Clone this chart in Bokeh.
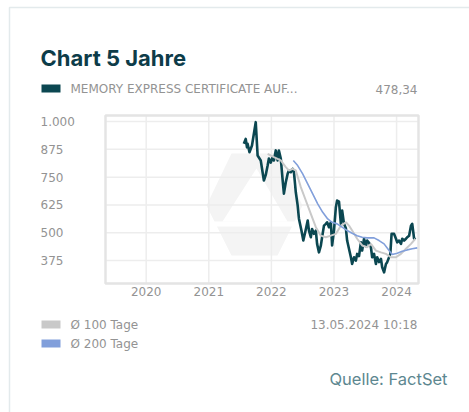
from bokeh.plotting import figure
from bokeh.models import Range1d
from bokeh.core.properties import value
from bokeh.embed import file_html
from bokeh.resources import INLINE

W, H = 469, 412

# ---- data ----
main_t = [2021.56, 2021.59, 2021.61, 2021.62, 2021.65, 2021.69, 2021.75, 2021.78, 2021.83, 2021.88,
          2021.91, 2021.94, 2021.96, 2021.99, 2022.02, 2022.04, 2022.07, 2022.10, 2022.12, 2022.15,
          2022.18, 2022.20, 2022.23, 2022.26, 2022.28, 2022.31, 2022.34, 2022.36, 2022.39, 2022.42,
          2022.44, 2022.48, 2022.51, 2022.54, 2022.58, 2022.60, 2022.63, 2022.65, 2022.68, 2022.71,
          2022.73, 2022.76, 2022.79, 2022.81, 2022.84, 2022.87, 2022.89, 2022.92, 2022.95, 2022.97,
          2023.00, 2023.03, 2023.05, 2023.08, 2023.11, 2023.13, 2023.16, 2023.19, 2023.21, 2023.27,
          2023.29, 2023.32, 2023.35, 2023.37, 2023.40, 2023.43, 2023.45, 2023.48, 2023.51, 2023.53,
          2023.56, 2023.59, 2023.61, 2023.64, 2023.67, 2023.69, 2023.72, 2023.75, 2023.77, 2023.80,
          2023.83, 2023.85, 2023.88, 2023.90, 2023.92, 2023.96, 2023.99, 2024.01, 2024.04, 2024.07,
          2024.09, 2024.12, 2024.15, 2024.17, 2024.20, 2024.23, 2024.25, 2024.28, 2024.30]
main_v = [900, 922, 884, 900, 862, 892, 997, 847, 825, 735,
          760, 802, 834, 815, 840, 825, 870, 825, 870, 834,
          735, 676, 727, 765, 780, 772, 787, 772, 682, 622,
          563, 510, 465, 502, 555, 510, 480, 517, 495, 510,
          450, 412, 442, 480, 532, 540, 547, 525, 547, 443,
          510, 615, 645, 640, 540, 600, 540, 520, 465, 390,
          360, 390, 375, 405, 395, 457, 420, 473, 440, 465,
          455, 435, 390, 405, 360, 390, 368, 383, 345, 322,
          360, 368, 390, 405, 495, 495, 473, 457, 465, 450,
          473, 465, 473, 480, 487, 532, 540, 473, 478.34]

ma100_t = [2021.94, 2022.04, 2022.15, 2022.23, 2022.28, 2022.34, 2022.39, 2022.47, 2022.55, 2022.63,
           2022.71, 2022.79, 2022.87, 2022.95, 2023.03, 2023.11, 2023.19, 2023.24, 2023.29, 2023.37,
           2023.45, 2023.53, 2023.59, 2023.67, 2023.75, 2023.83, 2023.91, 2023.99, 2024.07, 2024.15,
           2024.23, 2024.30]
ma100_v = [855, 840, 825, 795, 780, 787, 780, 705, 645, 585,
           525, 487, 480, 487, 495, 532, 547, 532, 510, 473,
           443, 435, 450, 420, 412, 405, 390, 390, 405, 428,
           450, 473]

ma200_t = [2022.35, 2022.42, 2022.50, 2022.58, 2022.66, 2022.74, 2022.82, 2022.90, 2022.97, 2023.05,
           2023.13, 2023.21, 2023.29, 2023.37, 2023.45, 2023.53, 2023.64, 2023.72, 2023.80, 2023.88,
           2023.93, 2024.01, 2024.09, 2024.17, 2024.25, 2024.33]
ma200_v = [825, 802, 765, 720, 675, 630, 592, 562, 547, 540,
           525, 510, 498, 487, 480, 477, 477, 465, 450, 420,
           402, 408, 417, 423, 428, 432]

x_ticks = [2020, 2021, 2022, 2023, 2024]
x_tick_labels = ["2020", "2021", "2022", "2023", "2024"]
y_ticks = [375, 500, 625, 750, 875, 1000]
y_tick_labels = ["375", "500", "625", "750", "875", "1.000"]

series_name = "MEMORY EXPRESS CERTIFICATE AUF..."
last_value = "478,34"
ma_labels = ["Ø 100 Tage", "Ø 200 Tage"]
timestamp = "13.05.2024 10:18"
source_text = "Quelle: FactSet"
title_text = "Chart 5 Jahre"

# ---- layout (pixels, top-left origin) ----
FL, FR, FT, FB = 105, 418, 115, 283       # chart frame
T0, T1 = 2019.35, 2024.35                  # time span shown in the frame
V0, V1 = 272, 1027                         # value span shown in the frame

# ---- styles ----
TEAL = "#0b4751"
GREY_MA = "#c9c9c9"
BLUE_MA = "#819fdb"
LABEL_GREY = "#939393"
FONT = value("DejaVu Sans")

p = figure(width=W, height=H, output_backend="svg", toolbar_location=None,
           x_axis_location=None, y_axis_location=None,
           x_range=Range1d(0, W), y_range=Range1d(H, 0),
           min_border=0)
p.outline_line_color = None
p.background_fill_color = "white"
p.border_fill_color = "white"
for g in p.grid:
    g.visible = False
p.xgrid.visible = False
p.ygrid.visible = False

# data ranges mapped onto the frame sub-box
ppt = (FR - FL) / (T1 - T0)
ppv = (FB - FT) / (V1 - V0)
p.extra_x_ranges = {"t": Range1d(T0 - FL / ppt, T1 + (W - FR) / ppt)}
p.extra_y_ranges = {"v": Range1d(V0 - (H - FB) / ppv, V1 + FT / ppv)}

# card border
p.line([9, 9, W + 5], [H + 5, 7, 7], line_color="#e3eaec", line_width=1.5)

# watermark (faint logo)
p.patch([206, 231, 277, 302, 277, 231], [205, 153, 153, 205, 255, 255], fill_color="#f4f4f4", line_color=None)
p.patch([256, 287, 222], [168, 221, 221], fill_color="#ffffff", line_color=None)
p.patch([212, 299, 296, 215], [221, 221, 226, 226], fill_color="#ffffff", line_color=None)

# grid
p.segment(x0=FL, x1=FR, y0=y_ticks, y1=y_ticks, y_range_name="v", line_color="#ededed", line_width=1.5)
p.segment(x0=x_ticks, x1=x_ticks, y0=FT, y1=FB, x_range_name="t", line_color="#ededed", line_width=1.5)
# frame border
p.quad(left=FL, right=FR, top=FT, bottom=FB, fill_color=None, line_color="#e4e4e4", line_width=2.5)

# lines
p.line(main_t, main_v, x_range_name="t", y_range_name="v", line_color=TEAL, line_width=2.6, line_join="round")
p.line(ma100_t, ma100_v, x_range_name="t", y_range_name="v", line_color=GREY_MA, line_width=2)
p.line(ma200_t, ma200_v, x_range_name="t", y_range_name="v", line_color=BLUE_MA, line_width=1.6)

# tick labels
p.text(x=[40] * len(y_ticks), y=y_ticks, text=y_tick_labels, y_range_name="v",
       text_font=FONT, text_font_size="12px", text_color=LABEL_GREY,
       text_align="left", text_baseline="middle")
p.text(x=x_ticks, y=[291] * len(x_ticks), text=x_tick_labels, x_range_name="t",
       text_font=FONT, text_font_size="12px", text_color=LABEL_GREY,
       text_align="center", text_baseline="middle")

# legend swatches
p.quad(left=[41, 41, 41], right=[60, 60, 60], top=[84, 320, 339], bottom=[92, 328, 347],
       fill_color=[TEAL, GREY_MA, BLUE_MA], line_color=None)

def txt(x, y, s, size="12px", color=LABEL_GREY, align="left", font=FONT, style="normal", baseline="middle"):
    p.text(x=[x], y=[y], text=[s], text_font=font, text_font_size=size, text_color=color,
           text_align=align, text_baseline=baseline, text_font_style=style)

txt(40, 57, title_text, size="22px", color="#0d3c49", font=value("Inter"), style="bold", baseline="alphabetic")
txt(70, 88.5, series_name)
txt(417, 88.5, last_value, align="right")
txt(70, 324.5, ma_labels[0])
txt(70, 343, ma_labels[1])
txt(417, 324.5, timestamp, align="right")
txt(447, 378.5, source_text, size="16.5px", color="#5d8790", font=value("Inter"), align="right")

open("out.html", "w").write(file_html(p, INLINE))
